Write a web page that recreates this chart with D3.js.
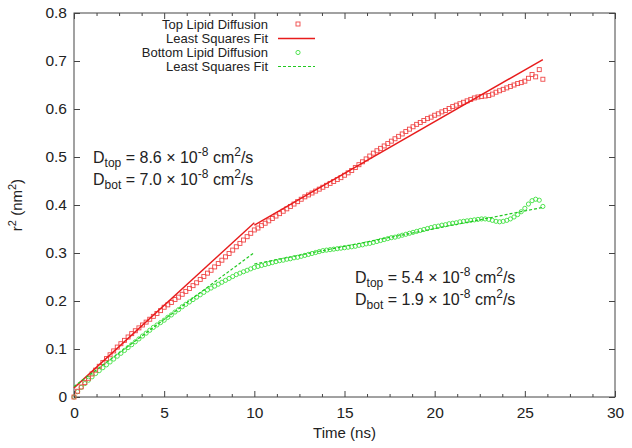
<!DOCTYPE html>
<html>
<head>
<meta charset="utf-8">
<script src="https://cdn.jsdelivr.net/npm/d3@7"></script>
<style>
  body { margin: 0; background: #fff; }
  svg { display: block; }
  text { font-family: "Liberation Sans", Arial, Helvetica, sans-serif; fill: #222; }
</style>
</head>
<body>
<svg id="chart" width="632" height="448"></svg>
<script>
// ---- data ----
const times = [
  0.0,0.2,0.4,0.6,0.8,1.0,1.2,1.4,1.6,1.8,2.0,2.2,2.4,2.6,2.8,3.0,3.2,3.4,3.6,3.8,
  4.0,4.2,4.4,4.6,4.8,5.0,5.2,5.4,5.6,5.8,6.0,6.2,6.4,6.6,6.8,7.0,7.2,7.4,7.6,7.8,
  8.0,8.2,8.4,8.6,8.8,9.0,9.2,9.4,9.6,9.8,10.0,10.2,10.4,10.6,10.8,11.0,11.2,11.4,11.6,11.8,
  12.0,12.2,12.4,12.6,12.8,13.0,13.2,13.4,13.6,13.8,14.0,14.2,14.4,14.6,14.8,15.0,15.2,15.4,15.6,15.8,
  16.0,16.2,16.4,16.6,16.8,17.0,17.2,17.4,17.6,17.8,18.0,18.2,18.4,18.6,18.8,19.0,19.2,19.4,19.6,19.8,
  20.0,20.2,20.4,20.6,20.8,21.0,21.2,21.4,21.6,21.8,22.0,22.2,22.4,22.6,22.8,23.0,23.2,23.4,23.6,23.8,
  24.0,24.2,24.4,24.6,24.8,25.0,25.2,25.4,25.6,25.8,26.0
];
const topLipid = [
  0.000,0.012,0.021,0.030,0.039,0.048,0.056,0.064,0.072,0.080,0.088,0.096,0.104,0.111,0.118,0.125,0.132,0.138,0.144,0.150,
  0.156,0.162,0.168,0.174,0.180,0.187,0.192,0.197,0.203,0.208,0.214,0.220,0.226,0.232,0.238,0.245,0.251,0.258,0.264,0.271,
  0.278,0.285,0.292,0.299,0.306,0.313,0.320,0.327,0.334,0.341,0.348,0.352,0.357,0.362,0.367,0.372,0.377,0.382,0.387,0.392,
  0.397,0.402,0.407,0.412,0.417,0.421,0.425,0.429,0.433,0.437,0.441,0.445,0.449,0.453,0.457,0.462,0.467,0.472,0.478,0.484,
  0.490,0.496,0.502,0.508,0.513,0.518,0.523,0.528,0.533,0.538,0.543,0.548,0.553,0.558,0.563,0.568,0.572,0.576,0.580,0.583,
  0.587,0.590,0.594,0.597,0.601,0.605,0.608,0.611,0.614,0.617,0.620,0.623,0.625,0.626,0.627,0.628,0.631,0.635,0.638,0.641,
  0.644,0.647,0.650,0.653,0.655,0.658,0.664,0.672,0.667,0.682,0.662
];
const bottomLipid = [
  0.000,0.011,0.020,0.028,0.035,0.042,0.049,0.055,0.061,0.067,0.073,0.079,0.085,0.091,0.097,0.103,0.109,0.115,0.121,0.127,
  0.133,0.139,0.145,0.150,0.155,0.160,0.166,0.171,0.177,0.182,0.188,0.193,0.198,0.203,0.208,0.213,0.218,0.223,0.227,0.231,
  0.235,0.239,0.243,0.247,0.251,0.255,0.258,0.261,0.264,0.267,0.270,0.272,0.274,0.276,0.278,0.280,0.282,0.284,0.285,0.287,
  0.288,0.290,0.291,0.293,0.295,0.297,0.299,0.301,0.303,0.305,0.306,0.307,0.308,0.309,0.310,0.311,0.312,0.313,0.314,0.316,
  0.317,0.319,0.320,0.322,0.324,0.326,0.328,0.330,0.332,0.333,0.335,0.337,0.339,0.341,0.343,0.345,0.347,0.349,0.351,0.353,
  0.355,0.356,0.358,0.359,0.361,0.362,0.363,0.365,0.366,0.367,0.368,0.369,0.370,0.371,0.371,0.370,0.368,0.366,0.365,0.366,
  0.368,0.371,0.375,0.380,0.386,0.393,0.402,0.409,0.412,0.410,0.397
];
// least squares fits: [time, r^2] endpoints of each segment
const topFitEarly = [[0, 0.019], [10, 0.363]];
const topFitLate = [[10, 0.358], [26, 0.703]];
const botFitEarly = [[0, 0.022], [10, 0.301]];
const botFitLate = [[10, 0.277], [26, 0.395]];

const xMajorTicks = [0, 5, 10, 15, 20, 25, 30];
const xMinorTicks = [1.25, 2.5, 3.75, 6.25, 7.5, 8.75, 11.25, 12.5, 13.75, 16.25, 17.5, 18.75, 21.25, 22.5, 23.75, 26.25, 27.5, 28.75];
const yTicks = [0, 0.1, 0.2, 0.3, 0.4, 0.5, 0.6, 0.7, 0.8];
const legendLabels = ["Top Lipid Diffusion", "Least Squares Fit", "Bottom Lipid Diffusion", "Least Squares Fit"];
const xTitle = "Time (ns)";

// ---- drawing ----
const svg = d3.select("#chart");
const L = 74, R = 615, T = 13, B = 397;
const x = d3.scaleLinear().domain([0, 30]).range([L, R]);
const y = d3.scaleLinear().domain([0, 0.8]).range([B, T]);

const RED = "#e81c1c", RED_PT = "#f04848", GREEN = "#22c822", GREEN_PT = "#40e040";
const AXIS = "#444";
const tickFont = 15.5;

function styleAxis(g) {
  g.select(".domain").remove();
  g.selectAll(".tick line").attr("stroke", AXIS).attr("stroke-width", 1);
  g.selectAll(".tick text").attr("font-size", tickFont).attr("fill", "#222")
    .attr("font-family", '"Liberation Sans", Arial, sans-serif');
}

// axes (ticks inward)
svg.append("g").attr("transform", `translate(0,${B})`)
  .call(d3.axisBottom(x).tickValues(xMajorTicks).tickSize(-6).tickPadding(10).tickFormat(d3.format("d")))
  .call(styleAxis);
svg.append("g").attr("transform", `translate(0,${B})`)
  .call(d3.axisBottom(x).tickValues(xMinorTicks).tickSize(-3).tickFormat(""))
  .call(styleAxis);
svg.append("g").attr("transform", `translate(0,${T})`)
  .call(d3.axisTop(x).tickValues(xMajorTicks).tickSize(-6).tickFormat(""))
  .call(styleAxis);
svg.append("g").attr("transform", `translate(0,${T})`)
  .call(d3.axisTop(x).tickValues(xMinorTicks).tickSize(-3).tickFormat(""))
  .call(styleAxis);
svg.append("g").attr("transform", `translate(${L},0)`)
  .call(d3.axisLeft(y).tickValues(yTicks).tickSize(-6).tickPadding(7)
    .tickFormat(d => d === 0 ? "0" : d3.format(".1f")(d)))
  .call(styleAxis);
svg.append("g").attr("transform", `translate(${R},0)`)
  .call(d3.axisRight(y).tickValues(yTicks).tickSize(-6).tickFormat(""))
  .call(styleAxis);

// border
svg.append("rect").attr("x", L).attr("y", T).attr("width", R - L).attr("height", B - T)
  .attr("fill", "none").attr("stroke", AXIS).attr("stroke-width", 1);

// data points
const topData = times.map((t, i) => [t, topLipid[i]]);
const botData = times.map((t, i) => [t, bottomLipid[i]]);

svg.append("g").selectAll("circle").data(botData).join("circle")
  .attr("cx", d => x(d[0])).attr("cy", d => y(d[1])).attr("r", 2.1)
  .attr("fill", "none").attr("stroke", GREEN_PT).attr("stroke-width", 0.9);

svg.append("g").selectAll("rect").data(topData).join("rect")
  .attr("x", d => x(d[0]) - 2).attr("y", d => y(d[1]) - 2).attr("width", 4).attr("height", 4)
  .attr("fill", "none").attr("stroke", RED_PT).attr("stroke-width", 0.9);

// fit lines
const line = d3.line().x(d => x(d[0])).y(d => y(d[1]));
[topFitEarly, topFitLate].forEach(seg => {
  svg.append("path").attr("d", line(seg)).attr("fill", "none").attr("stroke", RED).attr("stroke-width", 1.4);
});
[botFitEarly, botFitLate].forEach(seg => {
  svg.append("path").attr("d", line(seg)).attr("fill", "none").attr("stroke", GREEN)
    .attr("stroke-width", 1.2).attr("stroke-dasharray", "3,2");
});

// legend
const legY = [24, 38.5, 52.5, 66.5];
const leg = svg.append("g");
legendLabels.forEach((lab, i) => {
  leg.append("text").attr("x", 268).attr("y", legY[i]).attr("dy", "0.35em")
    .attr("text-anchor", "end").attr("font-size", 13).text(lab);
});
leg.append("rect").attr("x", 296).attr("y", legY[0] - 2).attr("width", 4).attr("height", 4)
  .attr("fill", "none").attr("stroke", RED_PT).attr("stroke-width", 0.9);
leg.append("line").attr("x1", 278).attr("x2", 315).attr("y1", legY[1]).attr("y2", legY[1])
  .attr("stroke", RED).attr("stroke-width", 1.4);
leg.append("circle").attr("cx", 298).attr("cy", legY[2]).attr("r", 2.1)
  .attr("fill", "none").attr("stroke", GREEN_PT).attr("stroke-width", 0.9);
leg.append("line").attr("x1", 278).attr("x2", 315).attr("y1", legY[3]).attr("y2", legY[3])
  .attr("stroke", GREEN).attr("stroke-width", 1.2).attr("stroke-dasharray", "3,2");

// annotations
function coeff(gx, gy, sub, val) {
  const t = svg.append("text").attr("x", gx).attr("y", gy).attr("font-size", 16);
  t.append("tspan").text("D");
  t.append("tspan").attr("font-size", 12).attr("dy", 4).text(sub);
  t.append("tspan").attr("dy", -4).text(` = ${val} \u00d7 10`);
  t.append("tspan").attr("font-size", 12).attr("dy", -7).text("-8");
  t.append("tspan").attr("dy", 7).text(" cm");
  t.append("tspan").attr("font-size", 12).attr("dy", -7).text("2");
  t.append("tspan").attr("dy", 7).text("/s");
}
coeff(93, 163, "top", "8.6");
coeff(93, 185, "bot", "7.0");
coeff(355, 283, "top", "5.4");
coeff(355, 305, "bot", "1.9");

// axis titles
svg.append("text").attr("x", (L + R) / 2).attr("y", 438).attr("text-anchor", "middle")
  .attr("font-size", 15).text(xTitle);
const yl = svg.append("text").attr("transform", `translate(22,${(T + B) / 2}) rotate(-90)`)
  .attr("text-anchor", "middle").attr("font-size", 15);
yl.append("tspan").text("r");
yl.append("tspan").attr("font-size", 11).attr("dy", -6).text("2");
yl.append("tspan").attr("dy", 6).text(" (nm");
yl.append("tspan").attr("font-size", 11).attr("dy", -6).text("2");
yl.append("tspan").attr("dy", 6).text(")");
</script>
</body>
</html>
